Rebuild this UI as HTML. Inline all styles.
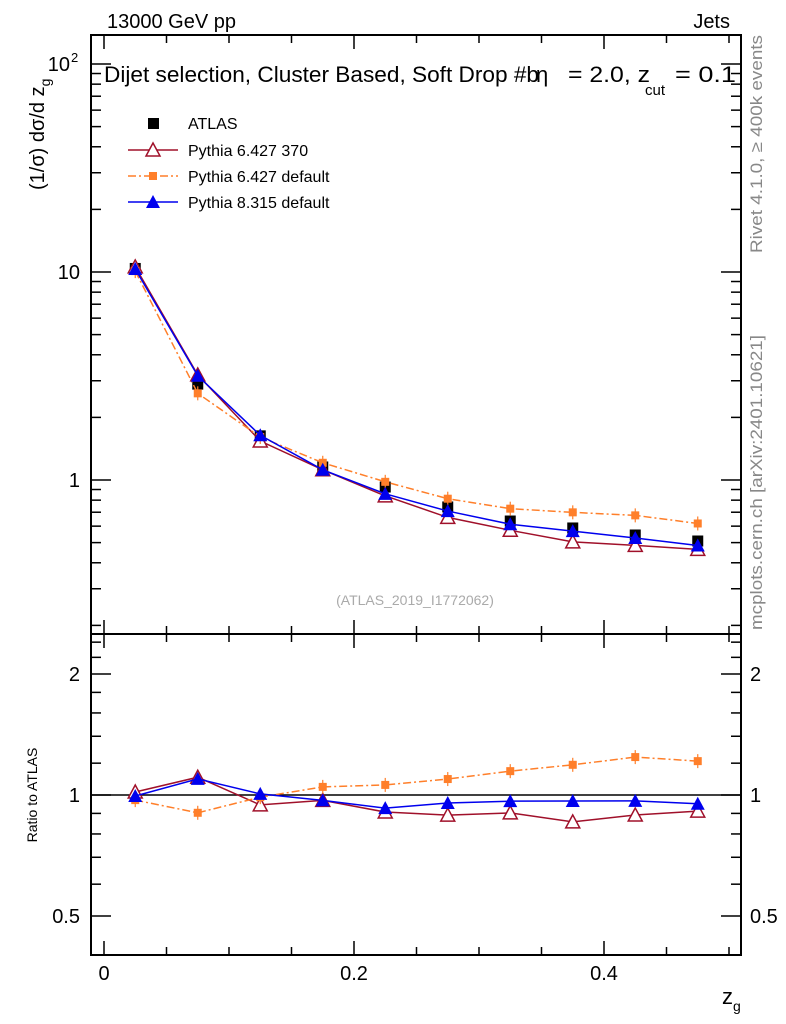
<!DOCTYPE html>
<html><head><meta charset="utf-8"><style>
body{margin:0;background:#fff;}
svg{display:block;font-family:"Liberation Sans",sans-serif;}
</style></head><body>
<svg id="chart" width="786" height="1024" viewBox="0 0 786 1024" xmlns="http://www.w3.org/2000/svg">
<g id="axes"></g>
<g id="marks"></g>
<text x="107" y="28" font-size="20">13000 GeV pp</text>
<text x="730" y="28" font-size="20" text-anchor="end">Jets</text>
<text x="104" y="82" font-size="22" textLength="435" lengthAdjust="spacingAndGlyphs">Dijet selection, Cluster Based, Soft Drop #b</text>
<text x="536" y="82" font-size="22">η</text>
<text x="568" y="82" font-size="22" textLength="82" lengthAdjust="spacingAndGlyphs">= 2.0, z</text>
<text x="645" y="95" font-size="15">cut</text>
<text x="675" y="82" font-size="22" textLength="61" lengthAdjust="spacingAndGlyphs">= 0.1</text>
<text transform="translate(44,190) rotate(-90)" font-size="20">(1/σ) dσ/d z<tspan font-size="14" dy="6">g</tspan></text>
<text transform="translate(37,795) rotate(-90)" font-size="14" text-anchor="middle">Ratio to ATLAS</text>
<text x="722" y="1004" font-size="22">z<tspan font-size="14" dy="7">g</tspan></text>
<text transform="translate(762,253) rotate(-90)" font-size="17" fill="#888" textLength="218" lengthAdjust="spacingAndGlyphs">Rivet 4.1.0, ≥ 400k events</text>
<text transform="translate(762,630) rotate(-90)" font-size="17" fill="#888" textLength="295" lengthAdjust="spacingAndGlyphs">mcplots.cern.ch [arXiv:2401.10621]</text>
<text x="415" y="605" font-size="14" fill="#aaa" text-anchor="middle">(ATLAS_2019_I1772062)</text>
<g>
<rect x="148" y="118" width="11" height="11" fill="#000"/>
<text x="188" y="129" font-size="16">ATLAS</text>
<line x1="128" y1="150" x2="178" y2="150" stroke="#a0102a" stroke-width="1.5"/>
<polygon points="153,143 146,156 160,156" fill="#fff" stroke="#a0102a" stroke-width="1.5"/>
<text x="188" y="156" font-size="16">Pythia 6.427 370</text>
<line x1="128" y1="176" x2="178" y2="176" stroke="#ff7f2a" stroke-width="1.5" stroke-dasharray="8,3,2,3"/>
<rect x="149" y="172" width="8" height="8" fill="#ff7f2a"/>
<text x="188" y="182" font-size="16">Pythia 6.427 default</text>
<line x1="128" y1="202" x2="178" y2="202" stroke="#0000ee" stroke-width="1.5"/>
<polygon points="153,195 146,208 160,208" fill="#0000ee"/>
<text x="188" y="208" font-size="16">Pythia 8.315 default</text>
</g>
</svg>
<script>
const xCenters=[0.025,0.075,0.125,0.175,0.225,0.275,0.325,0.375,0.425,0.475];
const atlas=[10.4,2.89,1.63,1.155,0.925,0.742,0.635,0.588,0.544,0.509];
const p6_370=[10.58,3.20,1.54,1.12,0.839,0.661,0.573,0.504,0.485,0.464];
const p6_def=[10.1,2.61,1.61,1.21,0.98,0.813,0.728,0.699,0.676,0.618];
const p8=[10.34,3.17,1.64,1.12,0.858,0.709,0.613,0.568,0.526,0.484];
const xTicks=[0,0.2,0.4];
const xTickLabels=["0","0.2","0.4"];
const ratioTicks=[0.5,1,2];
const ratioTickLabels=["0.5","1","2"];

const NS="http://www.w3.org/2000/svg";
const L=91,R=741,T=35,MB=634,RB=955;
const X=v=>104+v*1250;
const Y=v=>480-Math.log10(v)*208;
const RY=v=>795-Math.log10(v)*402;
const axes=document.getElementById('axes'),marks=document.getElementById('marks');
function mk(tag,attrs,parent){const e=document.createElementNS(NS,tag);for(const k in attrs)e.setAttribute(k,attrs[k]);parent.appendChild(e);return e;}

let f1=mk('rect',{x:L,y:T,width:R-L,height:MB-T,fill:'none',stroke:'#000','stroke-width':2},axes);


let f2=mk('rect',{x:L,y:MB,width:R-L,height:RB-MB,fill:'none',stroke:'#000','stroke-width':2},axes);



for(let i=0;i<=10;i++){const v=i*0.05,x=X(v),len=(i%4==0)?14:8;
 [[T,1],[MB,-1],[MB,1],[RB,-1]].forEach(([y0,d])=>{mk('line',{x1:x,y1:y0,x2:x,y2:y0+d*len,stroke:'#000','stroke-width':1.5},axes);});}
xTicks.forEach((v,i)=>{const t=mk('text',{x:X(v),y:980,'font-size':20,'text-anchor':'middle'},axes);t.textContent=xTickLabels[i];
 
 });

for(let d=-1;d<=2;d++)for(let m=1;m<=9;m++){const v=m*Math.pow(10,d),y=Y(v);if(y<T||y>MB)continue;const len=m==1?20:10;
 mk('line',{x1:L,y1:y,x2:L+len,y2:y,stroke:'#000','stroke-width':1.5},axes);mk('line',{x1:R,y1:y,x2:R-len,y2:y,stroke:'#000','stroke-width':1.5},axes);}
let t1=mk('text',{x:80,y:487,'font-size':20,'text-anchor':'end'},axes);t1.textContent='1';


let t10=mk('text',{x:80,y:279,'font-size':20,'text-anchor':'end'},axes);t10.textContent='10';


let t100=mk('text',{x:70,y:71,'font-size':20,'text-anchor':'end'},axes);t100.textContent='10';


let sup=mk('text',{x:71,y:62,'font-size':13},axes);sup.textContent='2';

[0.4,0.5,0.6,0.7,0.8,0.9,1,1.2,1.4,1.6,1.8,2,2.2,2.4].forEach(v=>{const y=RY(v);if(y<MB||y>RB)return;const len=(v==0.5||v==1||v==2)?20:10;
 mk('line',{x1:L,y1:y,x2:L+len,y2:y,stroke:'#000','stroke-width':1.5},axes);mk('line',{x1:R,y1:y,x2:R-len,y2:y,stroke:'#000','stroke-width':1.5},axes);});
ratioTicks.forEach((v,i)=>{[[80,'end'],[750,'start']].forEach(([x,a])=>{const t=mk('text',{x:x,y:RY(v)+7,'font-size':20,'text-anchor':a},axes);t.textContent=ratioTickLabels[i];
 
 });});
let one=mk('line',{x1:L,y1:RY(1),x2:R,y2:RY(1),stroke:'#000','stroke-width':1.5},axes);



function series(vals,color,dash,marker,name){
 const mainPts=vals.map((v,i)=>[X(xCenters[i]),Y(v)]);
 const ratioPts=vals.map((v,i)=>[X(xCenters[i]),RY(v/atlas[i])]);
 [[mainPts,'main'],[ratioPts,'ratio']].forEach(([pts,p])=>{
  const pl=mk('polyline',{points:pts.map(q=>q.join(',')).join(' '),fill:'none',stroke:color,'stroke-width':1.5,'stroke-dasharray':dash},marks);
  
  
  pts.forEach(([x,y])=>{let m;
   if(marker=='sq'){mk('line',{x1:x,y1:y-7,x2:x,y2:y+7,stroke:color,'stroke-width':1.2},marks);m=mk('rect',{x:x-4,y:y-4,width:8,height:8,fill:color},marks);}
   else if(marker=='otri'){m=mk('polygon',{points:`${x},${y-7} ${x-7},${y+6} ${x+7},${y+6}`,fill:'#fff',stroke:color,'stroke-width':1.5},marks);}
   else{m=mk('polygon',{points:`${x},${y-7} ${x-7},${y+6} ${x+7},${y+6}`,fill:color},marks);}
   
   });
 });
}
atlas.forEach((v,i)=>{const r=mk('rect',{x:X(xCenters[i])-5.5,y:Y(v)-5.5,width:11,height:11,fill:'#000'},marks);
 
 });
series(p6_370,'#a0102a','none','otri','pythia6-370');
series(p6_def,'#ff7f2a','8,3,2,3','sq','pythia6-default');
series(p8,'#0000ee','none','tri','pythia8-default');
</script>
</body></html>
